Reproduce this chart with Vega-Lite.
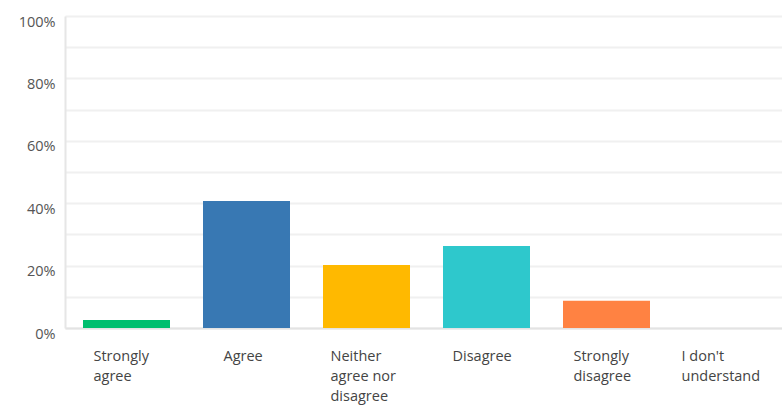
{
  "$schema": "https://vega.github.io/schema/vega-lite/v6.json",
  "autosize": {"type": "none"},
  "width": 717,
  "height": 312,
  "padding": {"left": 65, "top": 16, "right": 0, "bottom": 84},
  "background": "white",
  "config": {"view": {"stroke": null}, "font": "Open Sans"},
  "data": {
    "values": [
      {"answer": "Strongly agree", "pct": 0.026, "order": 1},
      {"answer": "Agree", "pct": 0.407, "order": 2},
      {"answer": "Neither agree nor disagree", "pct": 0.202, "order": 3},
      {"answer": "Disagree", "pct": 0.263, "order": 4},
      {"answer": "Strongly disagree", "pct": 0.087, "order": 5},
      {"answer": "I don't understand", "pct": 0, "order": 6}
    ]
  },
  "mark": {"type": "bar"},
  "encoding": {
    "x": {
      "field": "answer",
      "type": "nominal",
      "sort": {"field": "order"},
      "scale": {"paddingInner": 0.275, "paddingOuter": 0.125, "align": 0.6},
      "axis": {
        "title": null,
        "labelAngle": 0,
        "labelAlign": "left",
        "labelOffset": {
          "condition": [
            {"test": "datum.value == 'Strongly agree'", "value": -33},
            {"test": "datum.value == 'Agree'", "value": -23},
            {"test": "datum.value == 'Neither agree nor disagree'", "value": -36},
            {"test": "datum.value == 'Disagree'", "value": -34},
            {"test": "datum.value == 'Strongly disagree'", "value": -33}
          ],
          "value": -45
        },
        "labelBaseline": "top",
        "labelPadding": 21,
        "labelFontSize": 14.5,
        "labelColor": "#444444",
        "labelLineHeight": 20,
        "labelExpr": "datum.value == 'Strongly agree' ? ['Strongly', 'agree'] : datum.value == 'Neither agree nor disagree' ? ['Neither', 'agree nor', 'disagree'] : datum.value == 'Strongly disagree' ? ['Strongly', 'disagree'] : datum.value == \"I don't understand\" ? [\"I don't\", 'understand'] : datum.value",
        "ticks": false,
        "domainColor": "#e3e3e3",
        "domainWidth": 2
      }
    },
    "y": {
      "field": "pct",
      "type": "quantitative",
      "scale": {"domain": [0, 1], "nice": false},
      "axis": {
        "title": null,
        "values": [0, 0.1, 0.2, 0.3, 0.4, 0.5, 0.6, 0.7, 0.8, 0.9, 1],
        "labelExpr": "round(datum.value * 100) % 20 == 0 ? format(datum.value, '.0%') : ''",
        "labelFontSize": 14.5,
        "labelColor": "#555555",
        "labelPadding": 10,
        "labelOffset": 6,
        "ticks": false,
        "domainColor": "#e6e6e6",
        "domainWidth": 2,
        "gridColor": "#f0f0f0",
        "gridWidth": 2
      }
    },
    "color": {
      "field": "answer",
      "type": "nominal",
      "sort": {"field": "order"},
      "scale": {
        "domain": ["Strongly agree", "Agree", "Neither agree nor disagree", "Disagree", "Strongly disagree", "I don't understand"],
        "range": ["#00BF6F", "#3878B3", "#FFB900", "#2EC8CC", "#FF8242", "#999999"]
      },
      "legend": null
    }
  }
}
